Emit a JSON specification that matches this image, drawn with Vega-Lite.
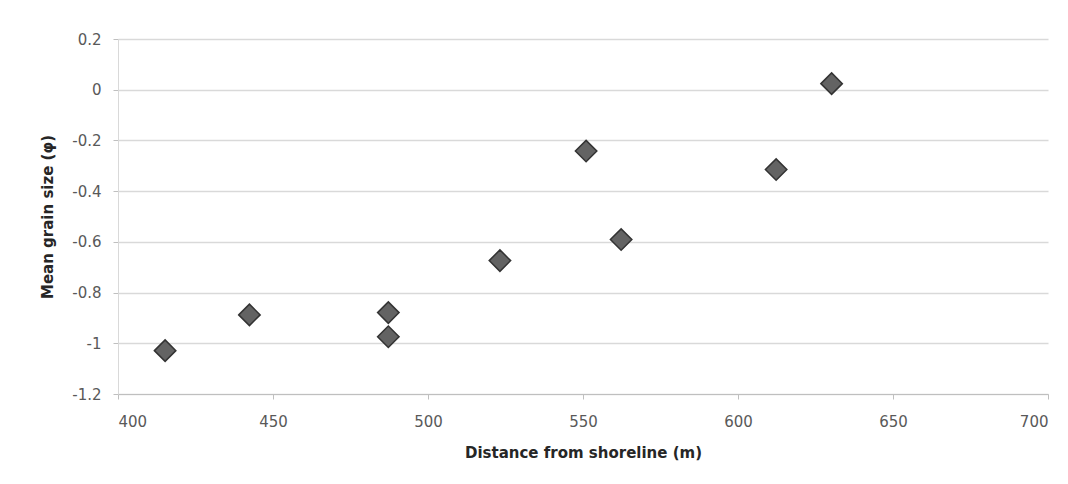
{
  "$schema": "https://vega.github.io/schema/vega-lite/v6.json",
  "autosize": "none",
  "width": 930,
  "height": 355,
  "padding": {"left": 118, "top": 39, "right": 20, "bottom": 90},
  "background": "white",
  "data": {
    "values": [
      {"distance": 415.2, "grain": -1.029},
      {"distance": 442.4, "grain": -0.888},
      {"distance": 487.2, "grain": -0.879},
      {"distance": 487.2, "grain": -0.974},
      {"distance": 523.2, "grain": -0.674},
      {"distance": 551.0, "grain": -0.242},
      {"distance": 562.3, "grain": -0.591},
      {"distance": 612.3, "grain": -0.315},
      {"distance": 630.2, "grain": 0.024}
    ]
  },
  "mark": {"type": "point", "shape": "diamond", "filled": true, "size": 460, "fill": "#636363", "stroke": "#333333", "strokeWidth": 1.5, "opacity": 1},
  "encoding": {
    "x": {
      "field": "distance", "type": "quantitative",
      "scale": {"domain": [400, 700], "nice": false, "zero": false},
      "axis": {
        "values": [400, 450, 500, 550, 600, 650, 700],
        "title": "Distance from shoreline (m)",
        "grid": false,
        "domainColor": "#bfbfbf", "tickColor": "#bfbfbf", "tickSize": 5,
        "labelFont": "DejaVu Sans", "labelFontSize": 15, "labelColor": "#595959", "labelPadding": 15,
        "titleFont": "DejaVu Sans", "titleFontSize": 15, "titleFontWeight": "bold", "titleColor": "#262626", "titlePadding": 16
      }
    },
    "y": {
      "field": "grain", "type": "quantitative",
      "scale": {"domain": [-1.2, 0.2], "nice": false, "zero": false},
      "axis": {
        "values": [-1.2, -1, -0.8, -0.6, -0.4, -0.2, 0, 0.2],
        "format": "~g",
        "labelExpr": "replace(datum.label, '−', '-')",
        "title": "Mean grain size (φ)",
        "grid": true, "gridColor": "#d9d9d9", "gridWidth": 1.5,
        "domainColor": "#d9d9d9", "tickColor": "#bfbfbf", "tickSize": 5,
        "labelFont": "DejaVu Sans", "labelFontSize": 15, "labelColor": "#595959", "labelPadding": 12,
        "titleFont": "DejaVu Sans", "titleFontSize": 15, "titleFontWeight": "bold", "titleColor": "#262626", "titlePadding": 16
      }
    }
  },
  "config": {"view": {"stroke": null}}
}
